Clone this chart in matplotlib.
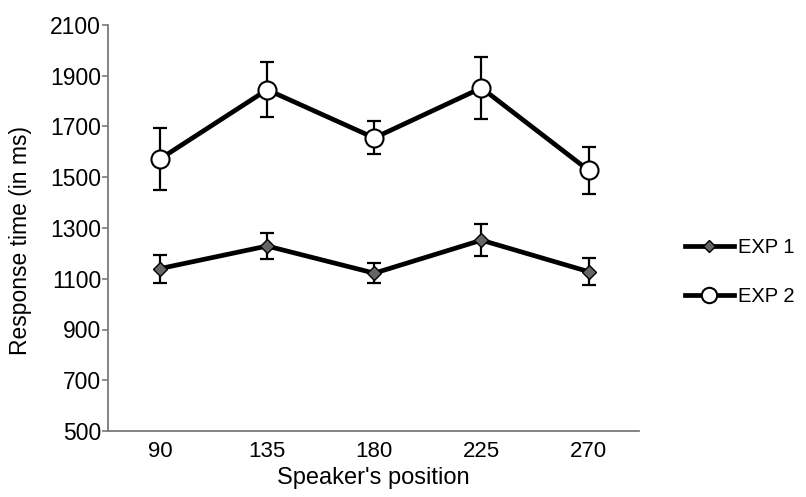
import numpy as np
import matplotlib
matplotlib.use("Agg")
import matplotlib.pyplot as plt

plt.rcParams['font.family'] = ['Liberation Sans', 'DejaVu Sans']

positions = ["90", "135", "180", "225", "270"]
exp1_mean = [1140, 1229, 1122, 1252, 1128]
exp1_err = [55, 51, 40, 62, 52]
exp2_mean = [1572, 1845, 1655, 1852, 1527]
exp2_err = [122, 108, 65, 121, 94]
y_ticks = [500, 700, 900, 1100, 1300, 1500, 1700, 1900, 2100]

fig = plt.figure(figsize=(8.06, 4.97), dpi=100)
ax = fig.add_axes([108 / 806, 1 - 431 / 497, 531 / 806, 406 / 497])

x = np.arange(len(positions))

# error bars first, markers sit over them
ax.errorbar(x, exp1_mean, yerr=exp1_err, fmt="none", ecolor="black",
            elinewidth=1.6, capsize=5, capthick=1.6, zorder=2)
ax.errorbar(x, exp2_mean, yerr=exp2_err, fmt="none", ecolor="black",
            elinewidth=1.6, capsize=5, capthick=1.6, zorder=2)

l1, = ax.plot(x, exp1_mean, color="black", lw=3.4, marker="D", ms=7.5,
              mfc="#666666", mec="black", mew=1.0, zorder=3, label="EXP 1")
l2, = ax.plot(x, exp2_mean, color="black", lw=3.4, marker="o", ms=13,
              mfc="white", mec="black", mew=1.5, zorder=3, label="EXP 2")

ax.set_xlim(-0.485, 4.47)
ax.set_ylim(500, 2100)
ax.set_xticks(x)
ax.set_xticklabels(positions)
ax.set_yticks(y_ticks)

for s in ["top", "right"]:
    ax.spines[s].set_visible(False)
for s in ["left", "bottom"]:
    ax.spines[s].set_color("#7a7a7a")
    ax.spines[s].set_linewidth(1.3)

ax.tick_params(axis="x", length=0, labelsize=16, pad=7)
ax.tick_params(axis="y", length=4, width=1.2, color="#7a7a7a", labelsize=16.5, pad=1)

ax.set_xlabel("Speaker's position", fontsize=17, labelpad=4)
ax.set_ylabel("Response time (in ms)", fontsize=16.5)
ax.yaxis.set_label_coords(-0.144, 0.47)

ax.legend(handles=[l1, l2], loc="center left", bbox_to_anchor=(1.087, 0.392),
          frameon=False, fontsize=14.5, handlelength=2.4, handletextpad=0.2,
          labelspacing=1.5, borderpad=0, borderaxespad=0, markerscale=0.85)

fig.savefig("out.png", dpi=100)
